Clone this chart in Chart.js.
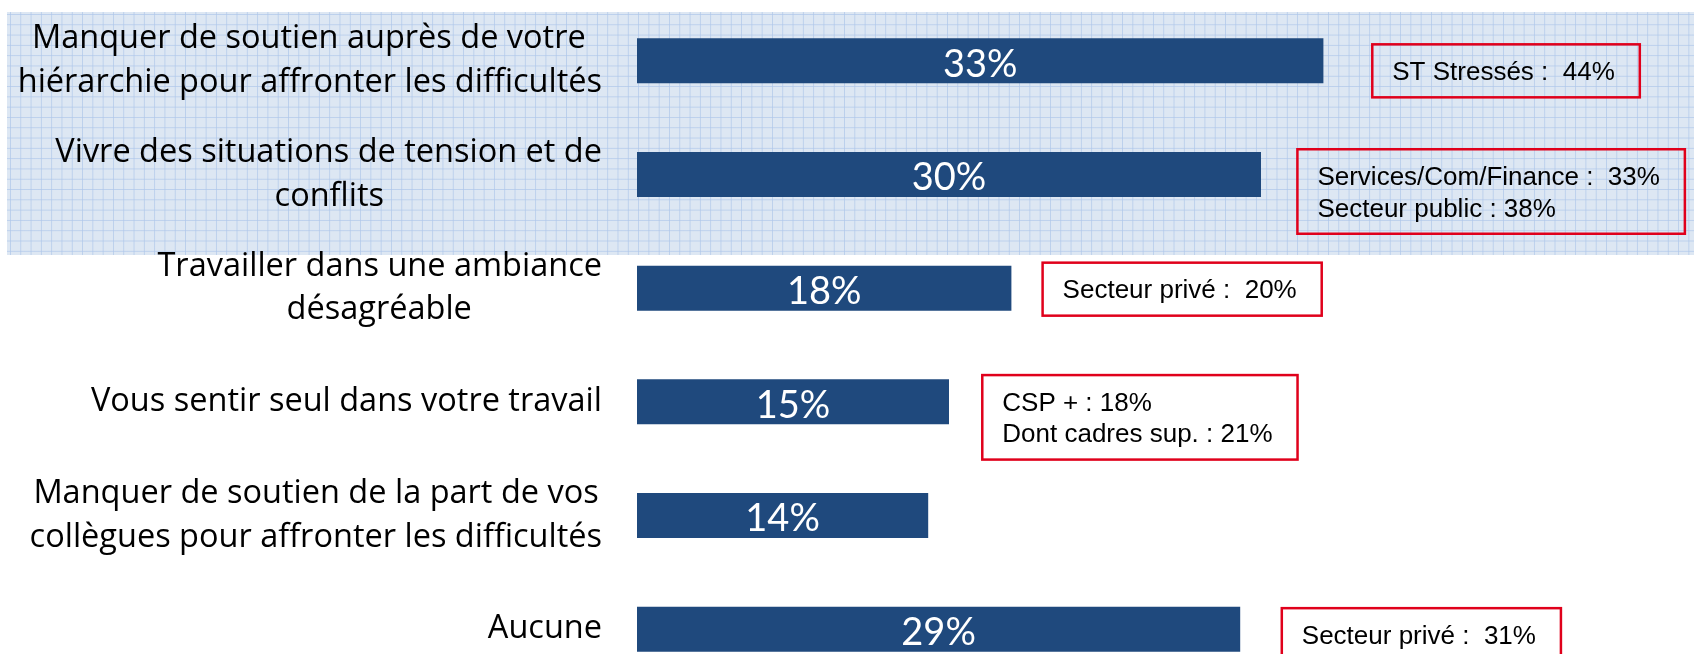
<!DOCTYPE html>
<html>
<head>
<meta charset="utf-8">
<script src="https://cdn.jsdelivr.net/npm/chart.js@4.4.1/dist/chart.umd.min.js"></script>
<style>
  html, body { margin: 0; padding: 0; background: #ffffff; overflow: hidden; width: 1694px; height: 654px; }
  #paper {
    position: absolute; left: 7px; top: 12px; width: 1687px; height: 243px;
    background-color: #dde7f3;
    background-image:
      linear-gradient(to right, rgba(176, 200, 234, 0.75) 1px, transparent 1px),
      linear-gradient(to bottom, rgba(176, 200, 234, 0.75) 1px, transparent 1px);
    background-size: 10.3px 10.3px;
    background-position: 3px 2px;
  }
  #wrap { position: absolute; left: 0; top: 0; width: 1694px; height: 690px; }
</style>
</head>
<body>
<div id="paper"></div>
<div id="wrap"><canvas id="c"></canvas></div>
<script>
// ---- data ----
const categories = [
  ["Manquer de soutien auprès de votre", "hiérarchie pour affronter les difficultés"],
  ["Vivre des situations de tension et de", "conflits"],
  ["Travailler dans une ambiance", "désagréable"],
  ["Vous sentir seul dans votre travail"],
  ["Manquer de soutien de la part de vos", "collègues pour affronter les difficultés"],
  ["Aucune"]
];
const values = [33, 30, 18, 15, 14, 29];
const noteLines = [
  ["ST Stressés :  44%"],
  ["Services/Com/Finance :  33%", "Secteur public : 38%"],
  ["Secteur privé :  20%"],
  ["CSP + : 18%", "Dont cadres sup. : 21%"],
  [],
  ["Secteur privé :  31%"]
];
// where each note box starts, in axis units (%)
const noteAnchor = [35.35, 31.75, 19.5, 16.6, null, 31.0];

// ---- styles ----
const labelFontSize = 32.5;
const labelFamily = '"Open Sans"';
const labelFont = `${labelFontSize}px ${labelFamily}`;
const valueFontSize = 38;
const noteFontSize = 26;
const noteLineH = 31.5;
const noteShiftY = [10, 17, 1, 15.5, 0, 5.5];
const barColor = '#1f497d';
const noteColor = '#e0001b';

// center shorter lines of a label block by padding them with hair spaces
const mctx = document.createElement('canvas').getContext('2d');
mctx.font = labelFont;
const hair = '\u200A';
const hairW = (mctx.measureText('a' + hair + 'a').width - mctx.measureText('aa').width) || 2;
const tickLabels = categories.map(lines => {
  if (lines.length < 2) return lines[0];
  const widths = lines.map(l => mctx.measureText(l).width);
  const maxW = Math.max(...widths);
  return lines.map((l, i) => l + hair.repeat(Math.round((maxW - widths[i]) / 2 / hairW)));
});

const overlayPlugin = {
  id: 'overlay',
  afterDatasetsDraw(chart) {
    const ctx = chart.ctx;
    const meta = chart.getDatasetMeta(0);
    const xs = chart.scales.x;
    ctx.save();
    // value labels
    ctx.font = `${valueFontSize}px Lato`;
    ctx.fillStyle = '#ffffff';
    ctx.textAlign = 'center';
    ctx.textBaseline = 'alphabetic';
    meta.data.forEach((bar, i) => {
      const cx = (bar.base + bar.x) / 2;
      ctx.fillText(values[i] + '%', cx, bar.y + 2 + valueFontSize * 0.36);
    });
    // note boxes
    ctx.font = `${noteFontSize}px "Liberation Sans", Arial, sans-serif`;
    ctx.textAlign = 'left';
    meta.data.forEach((bar, i) => {
      const lines = noteLines[i];
      if (!lines || !lines.length || noteAnchor[i] == null) return;
      const tw = Math.max(...lines.map(l => ctx.measureText(l).width));
      const w = tw + 45;
      const h = lines.length * noteLineH + 21.5;
      const x0 = xs.getPixelForValue(noteAnchor[i]);
      const y0 = bar.y + noteShiftY[i] - h / 2;
      ctx.strokeStyle = noteColor;
      ctx.lineWidth = 2.5;
      ctx.strokeRect(x0, y0, w, h);
      ctx.fillStyle = '#000000';
      lines.forEach((l, k) => {
        const lc = y0 + 10.75 + noteLineH * (k + 0.5);
        ctx.fillText(l, x0 + 20, lc + noteFontSize * 0.358);
      });
    });
    ctx.restore();
  }
};

new Chart(document.getElementById('c'), {
  type: 'bar',
  data: {
    labels: tickLabels,
    datasets: [{
      data: values,
      backgroundColor: barColor,
      borderWidth: 0,
      barPercentage: 0.9,
      categoryPercentage: 0.44
    }]
  },
  options: {
    indexAxis: 'y',
    responsive: true,
    maintainAspectRatio: false,
    animation: false,
    layout: { padding: { left: 0, right: 17, top: 4, bottom: 4 } },
    plugins: { legend: { display: false }, tooltip: { enabled: false } },
    scales: {
      x: { display: false, min: 0, max: 50 },
      y: {
        position: 'left',
        grid: { display: false, drawTicks: false },
        border: { display: false },
        afterFit(scale) {
          scale.width = 637;
          scale.paddingTop = 0;
          scale.paddingBottom = 0;
        },
        ticks: {
          padding: 35,
          color: '#000000',
          font: { family: labelFamily, size: labelFontSize, lineHeight: 43.5 / labelFontSize }
        }
      }
    }
  },
  plugins: [overlayPlugin]
});
</script>
</body>
</html>
